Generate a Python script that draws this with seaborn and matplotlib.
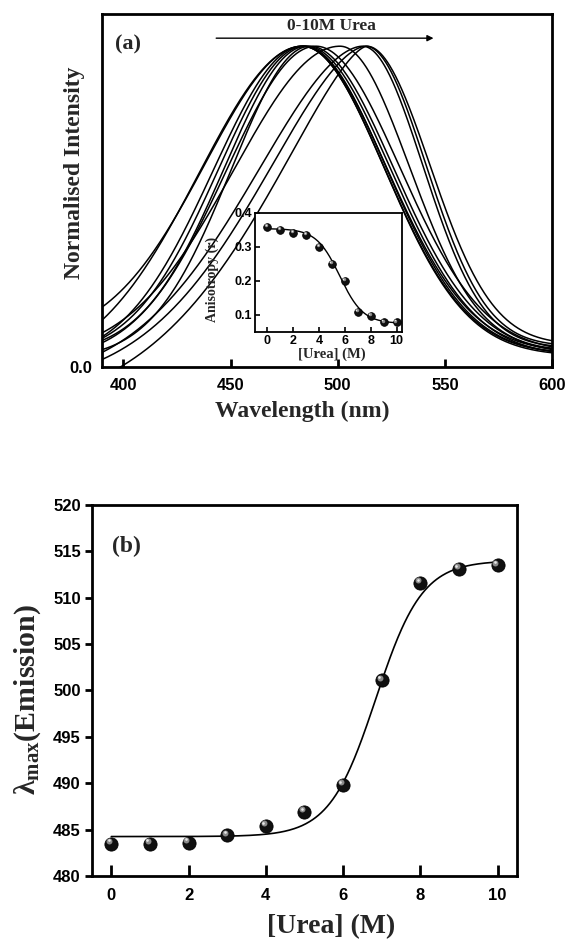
import numpy as np
import pandas as pd
import matplotlib
matplotlib.use("Agg")
import matplotlib.pyplot as plt
from matplotlib.transforms import offset_copy
import seaborn as sns

# ---------------- data ----------------
urea = [0, 1, 2, 3, 4, 5, 6, 7, 8, 9, 10]                       # [Urea] (M)
lambda_max = [483.5, 483.5, 483.6, 484.4, 485.4, 486.9, 489.8,
              501.1, 511.6, 513.1, 513.5]                          # emission maximum (nm)
anisotropy = [0.359, 0.351, 0.341, 0.336, 0.300, 0.250, 0.201,
              0.109, 0.097, 0.079, 0.079]                          # anisotropy r

# emission band shape of each spectrum
band_left_hw = [53, 49, 57, 47, 45, 43, 49, 58, 61, 58, 56]        # nm
band_right_hw = [45, 45, 46, 45, 46, 46, 46, 38, 33, 33, 34.5]     # nm
band_left_exp = [2, 2, 2, 2, 2, 2, 2, 2, 1.8, 1.7, 1.5]
band_left_base = [0.08, 0.015, -0.01, 0.03, 0.04, 0.025, 0.02, 0.03, -0.05, -0.065, -0.15]
band_right_base = [0.04, 0.035, 0.045, 0.04, 0.035, 0.04, 0.045, 0.05, 0.06, 0.065, 0.07]

# Boltzmann fit parameters (A1, A2, x0, dx)
fit_lambda = [484.25, 514.0, 6.85, 0.60]
fit_aniso = [0.354, 0.075, 5.6, 0.9]

# ---------------- style ----------------
sns.set_theme(style="ticks")
plt.rcParams.update({
    "font.family": ["Liberation Sans", "DejaVu Sans"],
    "font.weight": "bold",
    "mathtext.fontset": "custom",
    "mathtext.rm": "Liberation Serif:bold",
    "mathtext.it": "Liberation Serif:bold",
    "mathtext.bf": "Liberation Serif:bold",
    "axes.linewidth": 2.0,
    "axes.edgecolor": "black",
    "xtick.color": "black",
    "ytick.color": "black",
})
SERIF = ["Liberation Serif", "DejaVu Serif"]


def boltzmann(x, p):
    a1, a2, x0, dx = p
    return a2 + (a1 - a2) / (1.0 + np.exp((np.asarray(x) - x0) / dx))


def sphere(ax, x, y, size):
    """shiny black sphere markers"""
    sns.scatterplot(x=x, y=y, ax=ax, s=size ** 2, color="#101010",
                    edgecolor="black", linewidth=0.6, zorder=5, legend=False)
    hl = offset_copy(ax.transData, fig=ax.figure, x=-size * 0.16, y=size * 0.2, units="points")
    sns.scatterplot(x=x, y=y, ax=ax, s=(size * 0.45) ** 2, color="#8a8a8a",
                    linewidth=0, zorder=6, legend=False, transform=hl)
    hl2 = offset_copy(ax.transData, fig=ax.figure, x=-size * 0.2, y=size * 0.25, units="points")
    sns.scatterplot(x=x, y=y, ax=ax, s=(size * 0.2) ** 2, color="#e8e8e8",
                    linewidth=0, zorder=7, legend=False, transform=hl2)


fig = plt.figure(figsize=(5.65, 9.41), dpi=100)

# ---------------- panel (a): spectra ----------------
ax_a = fig.add_axes([0.1805, 0.61, 0.7965, 0.375])
wl = np.linspace(390, 600, 600)
rows = []
for i, c in enumerate(urea):
    d = wl - lambda_max[i]
    gl = np.exp(-np.log(2) * (np.abs(d) / band_left_hw[i]) ** band_left_exp[i])
    gr = np.exp(-np.log(2) * (np.abs(d) / band_right_hw[i]) ** 2)
    fl = band_left_base[i] + (1 - band_left_base[i]) * gl
    fr = band_right_base[i] + (1 - band_right_base[i]) * gr
    inten = np.where(d < 0, fl, fr)
    rows.append(pd.DataFrame({"Wavelength": wl, "Intensity": inten, "Urea": c}))
spec = pd.concat(rows, ignore_index=True)
sns.lineplot(data=spec, x="Wavelength", y="Intensity", units="Urea", estimator=None,
             color="black", lw=1.1, ax=ax_a, legend=False)
ax_a.set_xlim(390, 600)
ax_a.set_ylim(0, 1.1)
ax_a.set_xticks([400, 450, 500, 550, 600])
ax_a.set_yticks([0.0])
ax_a.set_yticklabels(["0.0"])
ax_a.tick_params(axis="x", direction="in", length=6, width=2, pad=8, labelsize=12)
ax_a.tick_params(axis="y", direction="in", length=0, width=2, pad=7, labelsize=12)
ax_a.set_xlabel("Wavelength (nm)", family=SERIF, fontsize=17, fontweight="bold", va="center")
ax_a.xaxis.set_label_coords(0.444, -0.127)
ax_a.set_ylabel("Normalised Intensity", family=SERIF, fontsize=17, fontweight="bold", va="center")
ax_a.yaxis.set_label_coords(-0.062, 0.55)
ax_a.annotate("", xy=(546, 1.025), xytext=(442, 1.025),
              arrowprops=dict(arrowstyle="-|>", color="black", lw=1.0, mutation_scale=9))
ax_a.text(497, 1.063, "0-10M Urea", family=SERIF, fontsize=12.5, fontweight="bold",
          ha="center", va="center")
ax_a.text(0.028, 0.915, "(a)", transform=ax_a.transAxes, family=SERIF, fontsize=16,
          fontweight="bold", ha="left", va="center")

# ---------------- inset: anisotropy ----------------
ax_i = fig.add_axes([0.4513, 0.6472, 0.260, 0.1265])
ax_i.set_facecolor("white")
xf = np.linspace(0, 10, 300)
sns.lineplot(x=xf, y=boltzmann(xf, fit_aniso), color="black", lw=1.0, ax=ax_i, zorder=3)
sphere(ax_i, urea, anisotropy, 5.5)
ax_i.set_xlim(-0.95, 10.4)
ax_i.set_ylim(0.05, 0.4)
ax_i.set_xticks([0, 2, 4, 6, 8, 10])
ax_i.set_yticks([0.1, 0.2, 0.3, 0.4])
ax_i.set_yticklabels(["0.1", "0.2", "0.3", "0.4"])
for s in ax_i.spines.values():
    s.set_linewidth(1.3)
ax_i.tick_params(direction="in", length=3.5, width=1.2, labelsize=9, pad=2)
ax_i.set_xlabel("[Urea] (M)", family=SERIF, fontsize=10.5, fontweight="bold", va="center")
ax_i.xaxis.set_label_coords(0.524, -0.19)
ax_i.set_ylabel("Anisotropy (r)", family=SERIF, fontsize=10, fontweight="bold", va="center")
ax_i.yaxis.set_label_coords(-0.29, 0.44)

# ---------------- panel (b): lambda max ----------------
ax_b = fig.add_axes([0.1628, 0.0691, 0.752, 0.3943])
xf = np.linspace(0, 10, 400)
sns.lineplot(x=xf, y=boltzmann(xf, fit_lambda), color="black", lw=1.2, ax=ax_b, zorder=3)
sphere(ax_b, urea, lambda_max, 9.5)
ax_b.set_xlim(-0.5, 10.5)
ax_b.set_ylim(480, 520)
ax_b.set_xticks([0, 2, 4, 6, 8, 10])
ax_b.set_yticks(np.arange(480, 521, 5))
ax_b.tick_params(axis="x", direction="in", length=8, width=2, pad=9, labelsize=12)
ax_b.tick_params(axis="y", direction="out", length=5, width=2, pad=3, labelsize=12)
ax_b.set_xlabel("[Urea] (M)", family=SERIF, fontsize=20, fontweight="bold", va="center")
ax_b.xaxis.set_label_coords(0.562, -0.137)
ax_b.set_ylabel(r"λ$_{\mathrm{max}}$(Emission)", family=SERIF, fontsize=21.5,
                fontweight="bold", va="center")
ax_b.yaxis.set_label_coords(-0.151, 0.474)
ax_b.text(0.047, 0.889, "(b)", transform=ax_b.transAxes, family=SERIF, fontsize=17,
          fontweight="bold", ha="left", va="center")

fig.savefig("out.png", dpi=100)
